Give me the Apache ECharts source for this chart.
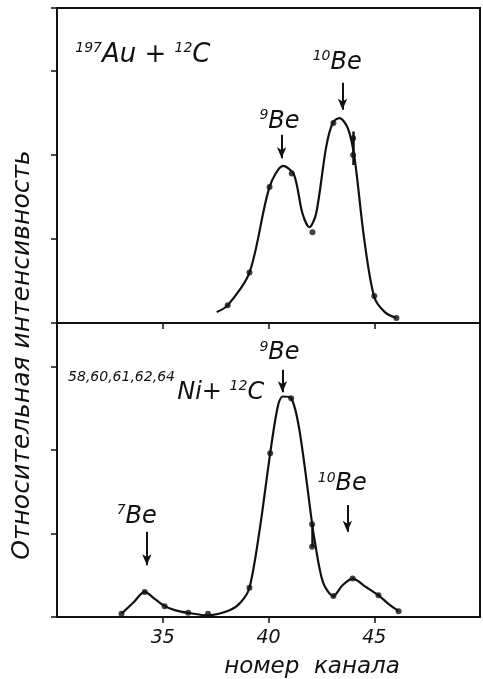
<!DOCTYPE html>
<html><head><meta charset="utf-8">
<script src="https://cdn.jsdelivr.net/npm/echarts@6/dist/echarts.min.js"></script>
<style>html,body{margin:0;padding:0;background:#fff}#c{width:483px;height:679px}</style>
</head><body><div id="c"></div>
<script>
// ---- data ----
var xTicks = [35, 40, 45];
// Top panel: 197Au + 12C
var auCurve = [[37.55,0.13],[38.07,0.21],[39.1,0.6],[40.05,1.62],[40.7,1.87],[41.2,1.77],[41.6,1.31],[41.93,1.14],[42.25,1.3],[42.73,2.1],[43.05,2.39],[43.35,2.44],[43.75,2.32],[44.06,1.98],[44.53,0.99],[45.0,0.31],[45.5,0.13],[46.04,0.06]];
var auPoints = [[38.07,0.21],[39.1,0.6],[40.05,1.62],[41.1,1.78],[42.08,1.08],[43.07,2.38],[44.0,2.2],[44.0,2.0],[45.0,0.32],[46.05,0.06]];
var auErr = [[44.0,1.88,2.28]];
// Bottom panel: 58,60,61,62,64Ni + 12C
var niCurve = [[33.05,0.04],[33.6,0.17],[34.15,0.30],[34.6,0.22],[35.09,0.13],[35.6,0.08],[36.2,0.05],[37.14,0.02],[38.16,0.08],[38.7,0.18],[39.1,0.35],[39.58,1.04],[40.08,1.96],[40.44,2.52],[40.68,2.64],[41.07,2.62],[41.46,2.24],[42.06,1.12],[42.14,0.98],[42.57,0.42],[43.07,0.25],[43.5,0.38],[43.98,0.46],[44.6,0.36],[45.2,0.26],[45.7,0.15],[46.15,0.07]];
var niPoints = [[33.05,0.04],[34.15,0.30],[35.09,0.13],[36.2,0.05],[37.14,0.04],[39.1,0.35],[40.08,1.96],[41.07,2.62],[42.06,1.11],[42.06,0.84],[43.07,0.25],[43.98,0.46],[45.2,0.26],[46.15,0.07]];
var niErr = [[42.06,0.84,1.11]];
// annotations: [x, y, sup, main, ...]
var auLabels = [[34.06,3.19,'197','Au + ','12','C'],[43.25,3.1,'10','Be'],[40.52,2.4,'9','Be']];
var auArrows = [[43.5,2.86,2.54],[40.62,2.24,1.96]];
var niLabels = [[40.52,3.16,'9','Be'],[43.49,1.59,'10','Be'],[33.77,1.2,'7','Be']];
var niArrows = [[40.66,2.96,2.69],[43.73,1.34,1.02],[34.25,1.02,0.62]];
var niIsotopes = '58,60,61,62,64';

var FONT = 'DejaVu Sans';
var INK = '#111';

function richLabel(parts){
  var s = '';
  for (var i=0;i<parts.length;i++){
    s += (i%2===0 ? '{s|' : '{m|') + parts[i] + '}';
  }
  return s;
}
var rich = {
  s:{fontSize:14, fontFamily:FONT, fontStyle:'italic', color:INK, verticalAlign:'top', lineHeight:26},
  m:{fontSize:24, fontFamily:FONT, fontStyle:'italic', color:INK, lineHeight:26}
};
var richTitle = {
  s:{fontSize:14, fontFamily:FONT, fontStyle:'italic', color:INK, verticalAlign:'top', lineHeight:28},
  m:{fontSize:26, fontFamily:FONT, fontStyle:'italic', color:INK, lineHeight:28}
};
function mkPoints(labels, r){
  return labels.map(function(l, i){
    return {coord:[l[0],l[1]], symbol:'circle', symbolSize:1, itemStyle:{color:'rgba(0,0,0,0)'},
      label:{show:true, position:'inside', formatter: richLabel(l.slice(2)), rich:(r && i===0) ? r : rich}};
  });
}
function mkSeg(arr){
  return arr.map(function(a){ return [{coord:[a[0],a[1]]},{coord:[a[0],a[2]]}]; });
}

var axisX = function(gi){ return {
  type:'value', gridIndex:gi, min:30, max:50, interval:5,
  axisLine:{show:true, onZero:false, lineStyle:{color:INK, width:2}},
  axisTick:{show:true, length:6, inside:false, lineStyle:{color:INK, width:1.5}, customValues: xTicks},
  axisLabel:{show: gi===1, fontSize:19, fontFamily:FONT, fontStyle:'italic', color:INK, margin:12, customValues: xTicks},
  splitLine:{show:false}
};};
var axisY = function(gi, max){ return {
  type:'value', gridIndex:gi, min:0, max:max, interval:1,
  axisLine:{show:true, lineStyle:{color:INK, width:2}},
  axisTick:{show:true, length:6, lineStyle:{color:INK, width:1.5}},
  axisLabel:{show:false}, splitLine:{show:false}
};};

var lineStyle = {color:INK, width:2.2};
var option = {
  animation:false,
  backgroundColor:'#fff',
  grid:[
    {left:57, top:8, width:423, height:315, show:true, borderColor:INK, borderWidth:2, backgroundColor:'transparent'},
    {left:57, top:323, width:423, height:294, show:true, borderColor:INK, borderWidth:2, backgroundColor:'transparent'}
  ],
  xAxis:[axisX(0), axisX(1)],
  yAxis:[axisY(0,3.75), axisY(1,3.52)],
  graphic:[
    {type:'text', x:22, y:355, rotation:Math.PI/2, style:{text:'Относительная интенсивность', fontSize:25, fontFamily:FONT, fontStyle:'italic', fill:INK, align:'center', verticalAlign:'middle'}},
    {type:'text', x:312, y:667, style:{text:'номер  канала', fontSize:23, fontFamily:FONT, fontStyle:'italic', fill:INK, align:'center', verticalAlign:'middle'}}
  ],
  series:[
    {type:'line', xAxisIndex:0, yAxisIndex:0, data:auCurve, smooth:0.3, showSymbol:false, lineStyle:lineStyle, z:3,
      markPoint:{data:mkPoints(auLabels, richTitle), silent:true},
      markLine:{silent:true, symbol:['none','arrow'], symbolSize:[7,11], label:{show:false}, lineStyle:{color:INK, width:2, type:'solid'}, data:mkSeg(auArrows)}},
    {type:'scatter', xAxisIndex:0, yAxisIndex:0, data:auPoints, symbol:'circle', symbolSize:6, itemStyle:{color:INK}, z:4,
      markLine:{silent:true, symbol:['none','none'], label:{show:false}, lineStyle:{color:INK, width:2.5, type:'solid'}, data:mkSeg(auErr)}},
    {type:'line', xAxisIndex:1, yAxisIndex:1, data:niCurve, smooth:0.3, showSymbol:false, lineStyle:lineStyle, z:3,
      markPoint:{data:mkPoints(niLabels), silent:true},
      markLine:{silent:true, symbol:['none','arrow'], symbolSize:[7,11], label:{show:false}, lineStyle:{color:INK, width:2, type:'solid'}, data:mkSeg(niArrows)}},
    {type:'scatter', xAxisIndex:1, yAxisIndex:1, data:niPoints, symbol:'circle', symbolSize:6, itemStyle:{color:INK}, z:4,
      markLine:{silent:true, symbol:['none','none'], label:{show:false}, lineStyle:{color:INK, width:2.5, type:'solid'}, data:mkSeg(niErr)},
      markPoint:{silent:true, data:[
        {coord:[33.05,2.87], symbol:'circle', symbolSize:1, itemStyle:{color:'rgba(0,0,0,0)'}, label:{show:true, position:'inside', formatter:niIsotopes, fontSize:14, fontFamily:FONT, fontStyle:'italic', color:INK}},
        {coord:[37.74,2.69], symbol:'circle', symbolSize:1, itemStyle:{color:'rgba(0,0,0,0)'}, label:{show:true, position:'inside', formatter:'{m|Ni+ }{s|12}{m|C}', rich:rich}}
      ]}}
  ]
};
var chart = echarts.init(document.getElementById('c'), null, {renderer:'canvas'});
chart.setOption(option);
</script></body></html>
